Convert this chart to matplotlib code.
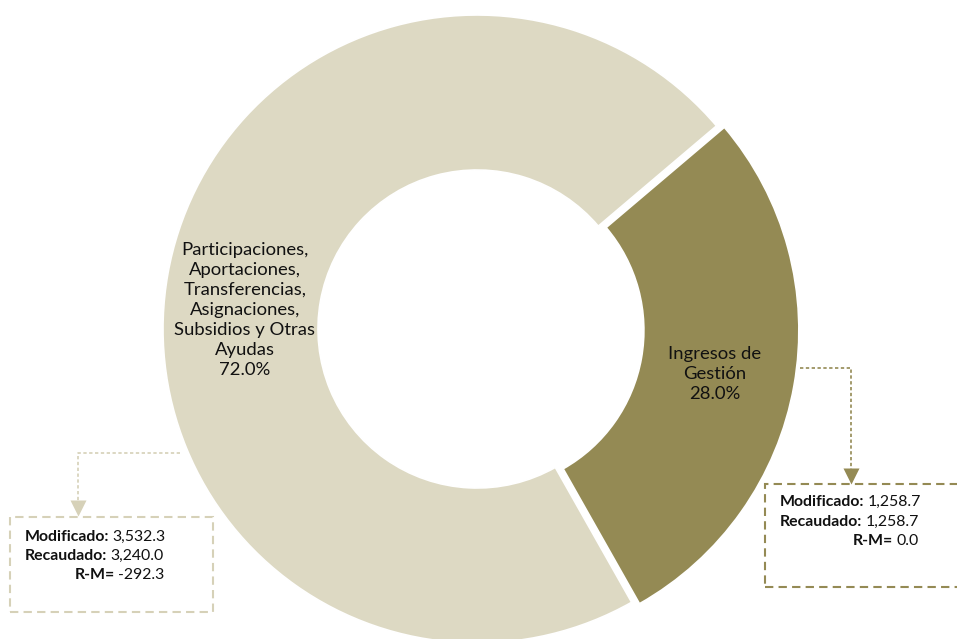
import matplotlib.pyplot as plt

plt.rcParams['font.family'] = ['Lato', 'DejaVu Sans']

# data
categories = ['Ingresos de\nGestión', 'Participaciones,\nAportaciones,\nTransferencias,\nAsignaciones,\nSubsidios y Otras\nAyudas']
shares = [28.0, 72.0]
modificado = [1258.7, 3532.3]
recaudado = [1258.7, 3240.0]
r_m = [0.0, -292.3]

light = '#DDD9C3'
dark = '#948A54'

fig = plt.figure(figsize=(9.57, 6.39), dpi=100)
ax = fig.add_axes([0, 0, 1, 1])

cx, cy, R = 477, 310, 314
# explode is in data units here (pixels), pie does not scale it by radius
wedges, _ = ax.pie(shares, colors=[dark, light], startangle=40.3, counterclock=False,
                   radius=R, center=(cx, cy), explode=[8, 0],
                   wedgeprops=dict(width=R - 159, edgecolor='white', linewidth=1.2))
ax.set_xlim(0, 957)
ax.set_ylim(0, 639)
ax.set_aspect('auto')
ax.axis('off')

# labels in the ring
ax.text(715, 265, f'{categories[0]}\n{shares[0]:.1f}%', ha='center', va='center',
        fontsize=13.3, linespacing=1.32, color='#111111')
ax.text(245, 329, f'{categories[1]}\n{shares[1]:.1f}%', ha='center', va='center',
        fontsize=13.3, linespacing=1.32, color='#111111')

# connectors
ax.plot([180, 78, 78], [186, 186, 130], color='#D6D1B8', lw=1.2, ls=(0, (2, 1.5)))
ax.plot([78], [131], marker='v', ms=11, color='#D6D1B8', mec='none')
ax.plot([800, 851, 851], [271, 271, 162], color=dark, lw=1.2, ls=(0, (2, 1.5)))
ax.plot([851], [163], marker='v', ms=11, color=dark, mec='none')

# boxes
ax.add_patch(plt.Rectangle((10, 27), 203, 95, fill=False, ec='#D6D1B8', lw=1.5, ls=(0, (4, 2.5))))
ax.add_patch(plt.Rectangle((765, 52), 200, 103, fill=False, ec=dark, lw=1.5, ls=(0, (4, 2.5)),
                           clip_on=False))


def box_line(x, y, label, value):
    t = ax.text(x, y, label, fontsize=11.4, fontweight='bold', ha='left', va='bottom', color='#111111')
    ax.annotate(value, xy=(1, 0), xycoords=t, xytext=(2.2, 0), textcoords='offset points',
                ha='left', va='bottom', fontsize=11.4, color='#111111')


def fmt(v):
    return f'{v:,.1f}'


box_line(25, 95, 'Modificado:', fmt(modificado[1]))
box_line(25, 76, 'Recaudado:', fmt(recaudado[1]))
box_line(75, 57, 'R-M=', fmt(r_m[1]))

box_line(780, 130, 'Modificado:', fmt(modificado[0]))
box_line(780, 110, 'Recaudado:', fmt(recaudado[0]))
box_line(853, 91, 'R-M=', fmt(r_m[0]))

fig.savefig('out.png', dpi=100)
